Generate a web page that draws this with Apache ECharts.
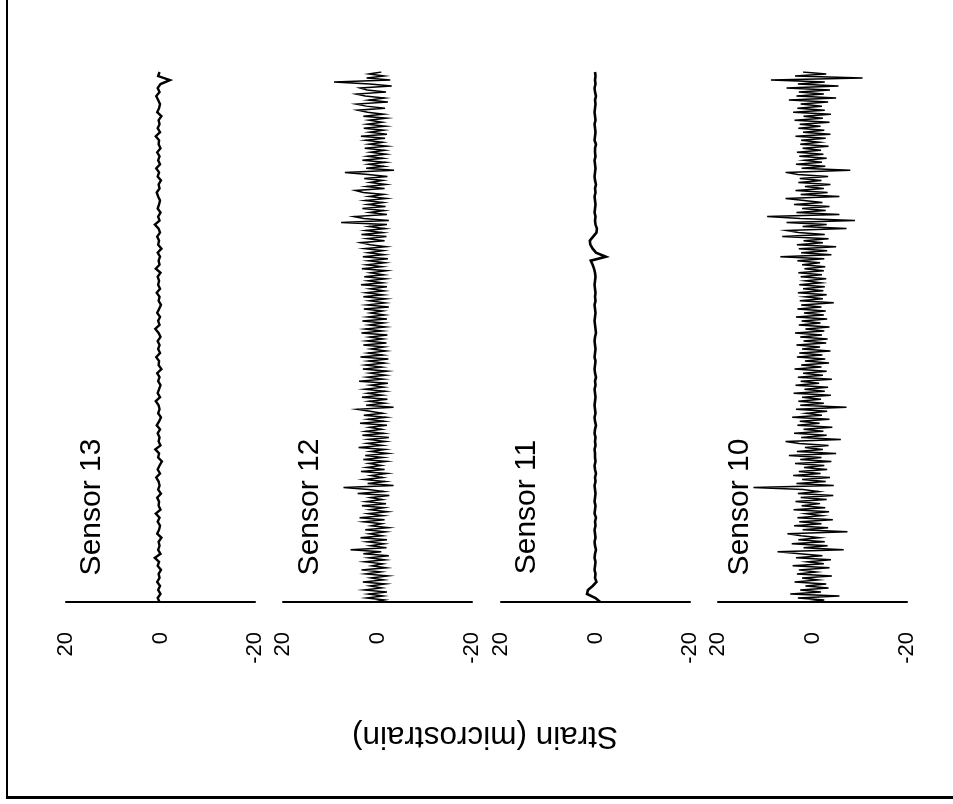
<!DOCTYPE html>
<html>
<head>
<meta charset="utf-8">
<script src="https://cdn.jsdelivr.net/npm/echarts@6/dist/echarts.min.js"></script>
<style>
html,body{margin:0;padding:0;background:#fff;}
#chart{width:953px;height:804px;}
</style>
</head>
<body>
<div id="chart"></div>
<script>
// Sensor names (left to right)
var sensorNames = ["Sensor 13", "Sensor 12", "Sensor 11", "Sensor 10"];
// Tick labels of the strain axis
var strainTicks = [20, 0, -20];
var axisTitle = "Strain (microstrain)";

// Strain values (microstrain), sampled in time order from the bottom (start) to the top (end)
var sensor13 = [
0.2,0.6,0.0,0.5,0.1,0.7,0.2,0.4,-0.1,0.6,
0.3,1.2,0.0,0.5,0.2,0.4,-0.2,0.7,0.3,0.1,
0.6,0.2,1.0,0.0,0.4,0.3,0.7,-0.1,0.5,0.2,
0.4,0.9,0.1,0.6,0.2,-0.3,0.5,0.3,1.1,0.0,
0.4,0.2,0.6,0.1,0.8,0.3,-0.1,0.5,0.2,0.4,
1.0,0.1,0.6,0.3,0.0,0.5,0.2,0.7,-0.2,0.4,
0.3,0.9,0.1,0.5,0.2,0.6,0.0,0.4,1.1,0.2,
0.5,0.1,0.7,0.3,-0.1,0.4,0.2,0.8,0.1,0.5,
0.3,0.6,0.0,1.0,0.2,0.4,0.1,0.6,-0.2,0.5,
0.3,0.7,0.1,0.4,1.2,0.2,0.5,0.0,0.6,0.3,
0.1,0.5,0.8,0.2,0.4,-0.1,0.6,0.3,0.9,0.1,
0.5,0.2,0.7,0.0,0.4,0.3,1.0,0.1,0.6,0.2,
0.4,-0.2,0.7,0.3,0.1,0.5,0.9,0.2,0.6,0.0,
-2.0,0.5,0.2
];

var sensor12 = [
0.8,-1.5,2.3,-1.2,1.9,-2.0,2.8,-0.9,1.6,-1.7,
3.1,-1.3,1.4,-2.2,2.5,-0.7,3.4,-1.8,1.2,-1.1,
2.7,-1.6,1.8,-2.4,3.0,-0.8,5.7,-1.9,1.5,-1.4,
2.2,-2.0,3.6,-1.0,1.7,-1.7,2.6,-2.3,1.3,-0.9,
2.9,-1.5,3.8,-1.2,2.0,-2.1,1.6,-1.4,3.3,-1.8,
2.4,-1.0,1.5,-2.5,4.2,-1.3,1.9,7.2,-3.4,2.1,
-1.6,2.8,-1.1,1.4,-2.0,3.5,-1.5,2.3,-0.8,1.8,
-1.9,3.0,-1.2,2.6,-2.2,1.5,-1.6,4.0,-1.0,2.2,
-1.7,1.9,-2.4,3.2,-1.3,2.5,-0.9,1.7,-2.0,3.7,
-1.4,2.0,-1.8,2.9,-1.1,1.6,4.3,-3.4,2.4,-1.5,
1.8,-2.1,3.3,-1.0,2.1,-1.6,2.7,-1.3,1.5,-2.2,
3.9,-1.2,2.2,-1.7,1.6,-2.0,3.1,-0.9,2.5,-1.5,
1.9,-2.3,3.6,-1.1,2.0,-1.8,1.4,-1.4,3.0,-1.9,
2.3,-1.2,1.7,-2.1,3.4,-1.0,2.6,-1.7,1.8,-1.3,
3.2,-2.0,2.1,-1.5,1.5,-1.1,2.9,-2.4,2.2,-1.6,
1.7,-1.8,3.0,-1.2,2.4,-1.4,1.6,-2.0,3.5,-1.1,
2.0,-1.7,2.8,-1.3,1.5,-1.9,3.3,-1.0,2.3,-1.6,
1.9,-2.2,3.1,-1.4,2.0,-1.2,2.7,-1.8,1.6,3.6,
-1.5,2.2,-1.9,3.4,-1.1,2.5,-1.6,1.8,-2.0,7.7,
-2.4,2.9,5.0,-2.0,1.7,-1.4,3.2,-1.7,2.1,-1.2,
2.6,-1.9,1.8,-1.3,3.0,4.7,-1.5,2.3,-1.8,1.6,
-1.1,2.8,-2.1,2.0,6.9,-3.5,2.4,-1.4,1.9,-1.7,
3.2,-1.2,2.1,-1.8,1.5,-1.5,2.7,-2.0,1.8,-1.1,
2.5,-1.6,3.5,-2.0,1.7,-1.3,2.9,-1.7,2.2,-1.0,
1.8,-1.9,3.0,-1.3,2.1,4.2,-1.6,2.4,4.5,-2.2,
1.9,-1.5,2.6,4.5,-1.8,2.2,3.7,-3.0,1.6,9.2,
-2.7,2.3,-1.4,1.8,-0.8
];

var sensor11 = [
-1.0,0.0,1.8,1.6,0.6,-0.2,0.1,0.0,0.2,0.1,
0.0,0.2,0.1,-0.1,0.1,0.2,0.0,0.1,0.2,0.0,
0.1,-0.1,0.2,0.1,0.0,0.2,0.1,0.0,0.1,0.2,
0.0,0.1,-0.1,0.1,0.2,0.0,0.1,0.1,0.2,0.0,
0.1,0.0,0.2,0.1,-0.1,0.1,0.2,0.0,0.1,0.2,
0.1,0.0,0.1,0.2,0.0,0.1,-0.1,0.1,0.2,0.1,
0.0,0.2,0.1,0.0,0.1,0.2,0.1,-0.1,0.0,0.1,
0.2,0.1,0.0,0.1,0.2,0.0,0.1,0.0,0.1,0.2,
0.1,0.0,0.1,0.3,0.6,1.0,-2.2,-0.1,0.6,1.1,
1.2,0.5,-0.2,-0.3,0.0,0.1,0.0,0.2,0.1,0.0,
0.1,0.2,0.0,0.1,-0.1,0.1,0.2,0.1,0.0,0.1,
0.2,0.0,0.1,0.1,-0.1,0.2,0.1,0.0,0.1,0.2,
0.0,0.1,0.2,0.1,0.0,0.1,-0.1,0.1,0.2,0.0,
0.1,0.0,0.1
];

var sensor10 = [
1.2,-2.5,3.1,-5.7,4.7,-1.8,2.6,-3.4,1.5,-2.9,
3.8,-1.2,2.2,-4.1,3.3,-0.8,2.9,-3.6,4.2,-2.4,
1.1,-3.9,3.5,-2.1,2.7,7.4,-6.6,1.9,-3.2,4.4,
-2.6,3.0,-1.5,2.4,5.3,-7.4,2.1,-3.3,3.9,-1.9,
2.8,-4.3,3.2,-2.0,1.4,-3.5,4.0,-2.7,2.3,-1.6,
3.6,-3.0,2.5,-4.4,3.1,-1.3,2.0,12.5,-4.5,3.4,
-2.8,2.2,-3.7,4.1,-1.7,2.9,-3.1,1.8,-2.5,3.7,
-4.0,2.6,-1.9,5.0,-5.0,3.3,-2.2,1.6,-3.4,2.8,
5.7,-6.0,2.4,-3.0,3.9,-2.3,1.9,-4.2,3.2,-1.5,
2.7,-3.6,4.3,-2.0,1.3,-3.1,3.5,-7.2,2.6,-2.4,
3.0,-1.8,2.2,-3.9,4.0,-2.6,1.7,-3.3,3.6,-1.4,
2.5,-4.1,3.1,-2.2,2.0,-3.0,3.8,-1.9,2.4,-3.5,
1.6,-2.7,3.3,-2.1,2.8,-3.8,2.2,-1.6,3.4,-2.9,
1.9,-3.2,2.6,-2.0,3.7,-2.5,1.5,-3.6,2.9,-1.7,
2.3,-3.1,3.5,-2.4,1.8,-2.8,3.2,-1.9,2.4,-4.5,
2.7,-2.2,1.6,-3.0,3.1,-2.3,2.0,-2.6,2.8,-1.8,
1.5,-2.9,2.5,-2.0,3.0,-2.4,1.7,-2.7,2.2,-1.6,
3.2,-2.5,6.8,-4.0,2.4,-3.1,2.9,-5.0,3.3,-2.2,
1.9,-3.4,6.4,-2.6,3.0,5.5,-7.2,2.1,-3.0,5.5,
-9.0,2.6,9.6,-5.7,3.4,-2.8,2.2,-3.6,3.9,-2.1,
1.8,5.7,-5.7,2.5,-3.2,3.6,-2.4,1.6,-3.8,3.0,
-1.9,2.7,-3.3,3.1,5.7,-8.0,2.3,-2.7,3.5,-2.0,
1.7,-3.0,2.8,-2.3,3.3,-1.8,2.1,-3.4,2.6,-1.5,
2.4,-2.8,3.6,-3.8,2.0,-2.5,3.0,-1.7,2.7,-3.6,
3.8,-2.2,1.9,-3.9,4.1,-2.6,3.2,-2.0,2.5,-3.3,
5.0,-5.0,3.4,-2.4,2.9,-3.7,5.5,-5.5,3.1,-2.6,
8.8,-10.6,3.7,-2.9,2.0
];

var seriesData = [sensor13, sensor12, sensor11, sensor10];

var FONT = "'Liberation Sans', Arial, Helvetica, sans-serif";
var panelLeft = [66, 283, 501, 718];
var panelWidth = 189;
var panelTop = 72;
var panelHeight = 530;
var lineWidths = [2.4, 1.5, 2.6, 1.5];
var labelX = [92, 310, 527, 740];

var grids = [], xAxes = [], yAxes = [], series = [], graphics = [];
for (var i = 0; i < 4; i++) {
  var arr = seriesData[i];
  grids.push({left: panelLeft[i], top: panelTop, width: panelWidth, height: panelHeight, containLabel: false});
  xAxes.push({
    type: 'value', gridIndex: i, min: strainTicks[2], max: strainTicks[0], interval: 20, inverse: true,
    position: 'bottom',
    axisLine: {show: true, onZero: false, lineStyle: {color: '#000', width: 2}},
    axisTick: {show: false},
    splitLine: {show: false},
    axisLabel: {rotate: 90, margin: 30, fontSize: 22, color: '#000', fontFamily: FONT,
      showMinLabel: true, showMaxLabel: true,
      formatter: function (v) { return String(v); }}
  });
  yAxes.push({type: 'value', gridIndex: i, min: 0, max: arr.length - 1, show: false,
    axisLine: {show: false}, splitLine: {show: false}});
  series.push({
    type: 'line', xAxisIndex: i, yAxisIndex: i,
    data: arr.map(function (v, k) { return [v, k]; }),
    showSymbol: false, symbol: 'none', animation: false, silent: true,
    lineStyle: {color: '#000', width: lineWidths[i], join: 'miter'}
  });
  graphics.push({
    type: 'text', x: labelX[i], y: 507, rotation: Math.PI / 2,
    style: {text: sensorNames[i], fontSize: 30, fontFamily: FONT, fill: '#000',
      textAlign: 'center', textVerticalAlign: 'middle'}
  });
}
graphics.push({
  type: 'text', x: 485, y: 736, rotation: Math.PI,
  style: {text: axisTitle, fontSize: 31.5, fontFamily: FONT, fill: '#000',
    textAlign: 'center', textVerticalAlign: 'middle'}
});
graphics.push({type: 'line', shape: {x1: 7, y1: 0, x2: 7, y2: 798}, style: {stroke: '#000', lineWidth: 2}});
graphics.push({type: 'line', shape: {x1: 6, y1: 797.5, x2: 953, y2: 797.5}, style: {stroke: '#000', lineWidth: 3}});

var chart = echarts.init(document.getElementById('chart'), null, {renderer: 'canvas'});
chart.setOption({
  backgroundColor: '#fff',
  animation: false,
  grid: grids,
  xAxis: xAxes,
  yAxis: yAxes,
  series: series,
  graphic: graphics
});
</script>
</body>
</html>
